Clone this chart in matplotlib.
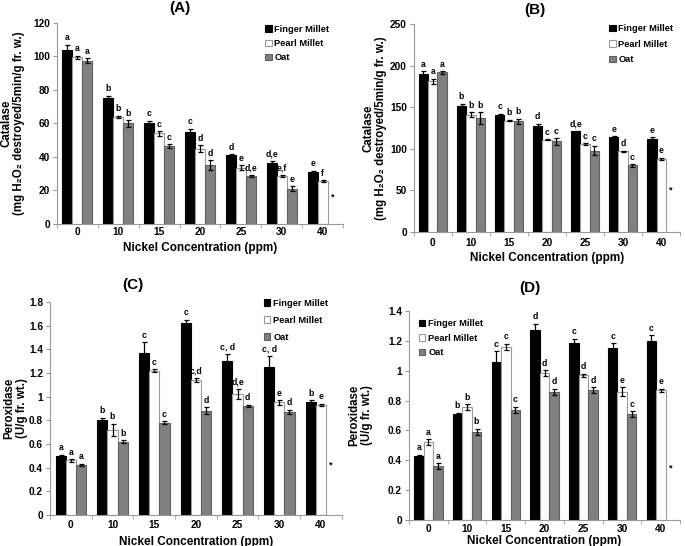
import numpy as np
import matplotlib
matplotlib.use("Agg")
import matplotlib.pyplot as plt
from matplotlib.ticker import FuncFormatter

plt.rcParams['font.family'] = ['Liberation Sans', 'DejaVu Sans']

nan = np.nan
conc = ['0', '10', '15', '20', '25', '30', '40']
series_names = ['Finger Millet', 'Pearl Millet', 'Oat']

# Panel A - Catalase
A_fm = [104, 75, 60.5, 55, 41, 36.5, 31]
A_fm_err = [3, 1.5, 1, 1.8, 0.5, 1, 0.7]
A_pm = [99.5, 64, 54, 45, 33.5, 28.5, 25.5]
A_pm_err = [1, 0.5, 1.5, 2, 1.5, 0.5, 0.5]
A_oat = [97.5, 60, 46.5, 35, 28.5, 21, nan]
A_oat_err = [1.5, 2, 1, 3, 0.8, 1.5, nan]
A_fm_lab = ['a', 'b', 'c', 'c', 'd', 'd,e', 'e']
A_pm_lab = ['a', 'b', 'c', 'd', 'e', 'e,f', 'f']
A_oat_lab = ['a', 'b', 'c', 'd', 'd,e', 'e', '']
A_star = 16

# Panel B - Catalase
B_fm = [190, 152, 141, 127, 121, 114, 112]
B_fm_err = [3, 2, 1, 3, 1, 1, 2]
B_pm = [181, 141, 134, 111, 106, 97, 88]
B_pm_err = [3, 3, 1, 0.5, 1, 1, 1]
B_oat = [192, 137, 133, 109, 98, 80, nan]
B_oat_err = [1.5, 7, 3, 4, 6, 1.5, nan]
B_fm_lab = ['a', 'b', 'c', 'd', 'd,e', 'e', 'e']
B_pm_lab = ['a', 'b', 'b', 'c', 'c', 'd', 'e']
B_oat_lab = ['a', 'b', 'b', 'c', 'c', 'c', '']
B_star = 50

# Panel C - Peroxidase
C_fm = [0.50, 0.80, 1.37, 1.62, 1.30, 1.25, 0.95]
C_fm_err = [0.01, 0.02, 0.09, 0.03, 0.06, 0.09, 0.02]
C_pm = [0.46, 0.72, 1.22, 1.14, 1.02, 0.95, 0.93]
C_pm_err = [0.01, 0.05, 0.01, 0.02, 0.04, 0.02, 0.01]
C_oat = [0.42, 0.62, 0.78, 0.88, 0.92, 0.87, nan]
C_oat_err = [0.01, 0.01, 0.01, 0.03, 0.01, 0.02, nan]
C_fm_lab = ['a', 'b', 'c', 'c', 'c, d', 'c, d', 'b']
C_pm_lab = ['a', 'b', 'c', 'c,d', 'd,e', 'e', 'e']
C_oat_lab = ['a', 'b', 'c', 'd', 'd', 'd', '']
C_star = 0.42

# Panel D - Peroxidase
D_fm = [0.425, 0.71, 1.06, 1.275, 1.185, 1.155, 1.20]
D_fm_err = [0.01, 0.01, 0.07, 0.04, 0.03, 0.03, 0.04]
D_pm = [0.52, 0.755, 1.16, 0.985, 0.97, 0.86, 0.87]
D_pm_err = [0.02, 0.02, 0.02, 0.02, 0.01, 0.03, 0.01]
D_oat = [0.36, 0.59, 0.74, 0.86, 0.87, 0.71, nan]
D_oat_err = [0.02, 0.02, 0.02, 0.02, 0.02, 0.02, nan]
D_fm_lab = ['a', 'b', 'c', 'd', 'c', 'c', 'c']
D_pm_lab = ['a', 'b', 'c', 'd', 'd', 'e', 'e']
D_oat_lab = ['a', 'b', 'c', 'd', 'd', 'c', '']
D_star = 0.35

fills = ['#000000', '#ffffff', '#808080']
edges = ['#000000', '#9a9a9a', '#606060']

fig = plt.figure(figsize=(6.85, 5.46), dpi=100)

cat_ylabel = 'Catalase\n(mg H\u2082O\u2082 destroyed/5min/g fr. w.)'
per_ylabel = 'Peroxidase\n(U/g fr. wt.)'

panels = [
    dict(rect=[0.083, 0.590, 0.418, 0.368], title='(A)', tpos=(0.263, 0.985),
         data=[(A_fm, A_fm_err, A_fm_lab), (A_pm, A_pm_err, A_pm_lab), (A_oat, A_oat_err, A_oat_lab)],
         star=A_star, ymax=120, ystep=20, ylabel=cat_ylabel, fmt='%d',
         ylc=-0.112, xlc=-0.09, xpad=2, leg=(0.727, 0.99), ls=0.55),
    dict(rect=[0.604, 0.575, 0.389, 0.381], title='(B)', tpos=(0.781, 0.982),
         data=[(B_fm, B_fm_err, B_fm_lab), (B_pm, B_pm_err, B_pm_lab), (B_oat, B_oat_err, B_oat_lab)],
         star=B_star, ymax=250, ystep=50, ylabel=cat_ylabel, fmt='%d',
         ylc=-0.10, xlc=-0.096, xpad=4, leg=(0.733, 1.0), ls=0.7),
    dict(rect=[0.073, 0.057, 0.426, 0.390], title='(C)', tpos=(0.194, 0.478),
         data=[(C_fm, C_fm_err, C_fm_lab), (C_pm, C_pm_err, C_pm_lab), (C_oat, C_oat_err, C_oat_lab)],
         star=C_star, ymax=1.8, ystep=0.2, ylabel=per_ylabel, fmt='%g',
         ylc=-0.075, xlc=-0.097, xpad=4, leg=(0.733, 1.014), ls=0.85),
    dict(rect=[0.597, 0.048, 0.396, 0.382], title='(D)', tpos=(0.774, 0.473),
         data=[(D_fm, D_fm_err, D_fm_lab), (D_pm, D_pm_err, D_pm_lab), (D_oat, D_oat_err, D_oat_lab)],
         star=D_star, ymax=1.4, ystep=0.2, ylabel=per_ylabel, fmt='%g',
         ylc=-0.133, xlc=-0.074, xpad=3, leg=(0.037, 0.962), ls=0.6),
]

x = np.arange(len(conc))
w = 0.245
offsets = [-w, 0, w]

for p in panels:
    ax = fig.add_axes(p['rect'])
    ymax = p['ymax']
    handles = []
    for k, (vals, errs, labs) in enumerate(p['data']):
        vals = np.array(vals, dtype=float)
        errs = np.array(errs, dtype=float)
        xs = x + offsets[k]
        b = ax.bar(xs, vals, width=w, color=fills[k], edgecolor=edges[k],
                   linewidth=0.8, label=series_names[k], zorder=2)
        handles.append(b)
        ax.errorbar(xs, vals, yerr=errs, fmt='none', ecolor='black',
                    elinewidth=0.9, capsize=1.8, capthick=0.9, zorder=3)
        for xi, v, e, lab in zip(xs, vals, errs, labs):
            if np.isnan(v) or not lab:
                continue
            ax.text(xi, v + e + ymax * 0.012, lab, ha='center', va='bottom',
                    fontsize=6.2, fontweight='bold', zorder=4)
    # missing Oat value at last concentration
    ax.text(x[-1] + offsets[2], p['star'], '*', ha='center', va='center',
            fontsize=6.5, fontweight='bold')

    ax.set_xlim(-0.5, len(conc) - 0.5)
    ax.set_ylim(0, ymax)
    ax.set_yticks(np.arange(0, ymax + ymax * 1e-6, p['ystep']))
    ax.yaxis.set_major_formatter(FuncFormatter(lambda v, pos, f=p['fmt']: f % round(v, 2)))
    ax.set_xticks(x)
    ax.set_xticklabels(conc)
    ax.set_xticks(np.arange(-0.5, len(conc), 1.0), minor=True)
    ax.tick_params(axis='x', which='major', length=0, labelsize=7.3, pad=p['xpad'])
    ax.tick_params(axis='x', which='minor', length=3, color='#999999', direction='out')
    ax.tick_params(axis='y', length=3, color='#999999', labelsize=7.3, pad=2)
    for lab in ax.get_xticklabels() + ax.get_yticklabels():
        lab.set_fontweight('bold')
    for s in ['top', 'right']:
        ax.spines[s].set_visible(False)
    for s in ['left', 'bottom']:
        ax.spines[s].set_color('#999999')
        ax.spines[s].set_linewidth(0.8)
    ax.set_xlabel('Nickel Concentration (ppm)', fontsize=8.5, fontweight='bold')
    ax.xaxis.set_label_coords(0.5, p['xlc'])
    ax.set_ylabel(p['ylabel'], fontsize=8.3, fontweight='bold', linespacing=1.05)
    ax.yaxis.set_label_coords(p['ylc'], 0.5)
    ax.legend(handles=handles, loc='upper left', bbox_to_anchor=p['leg'],
              frameon=False, prop={'size': 6.7, 'weight': 'bold'},
              handlelength=0.7, handleheight=0.7, handletextpad=0.3,
              labelspacing=p['ls'], borderaxespad=0, borderpad=0)
    fig.text(p['tpos'][0], p['tpos'][1], p['title'], ha='center', va='center',
             fontsize=11, fontweight='bold')

fig.savefig('out.png', dpi=100)
